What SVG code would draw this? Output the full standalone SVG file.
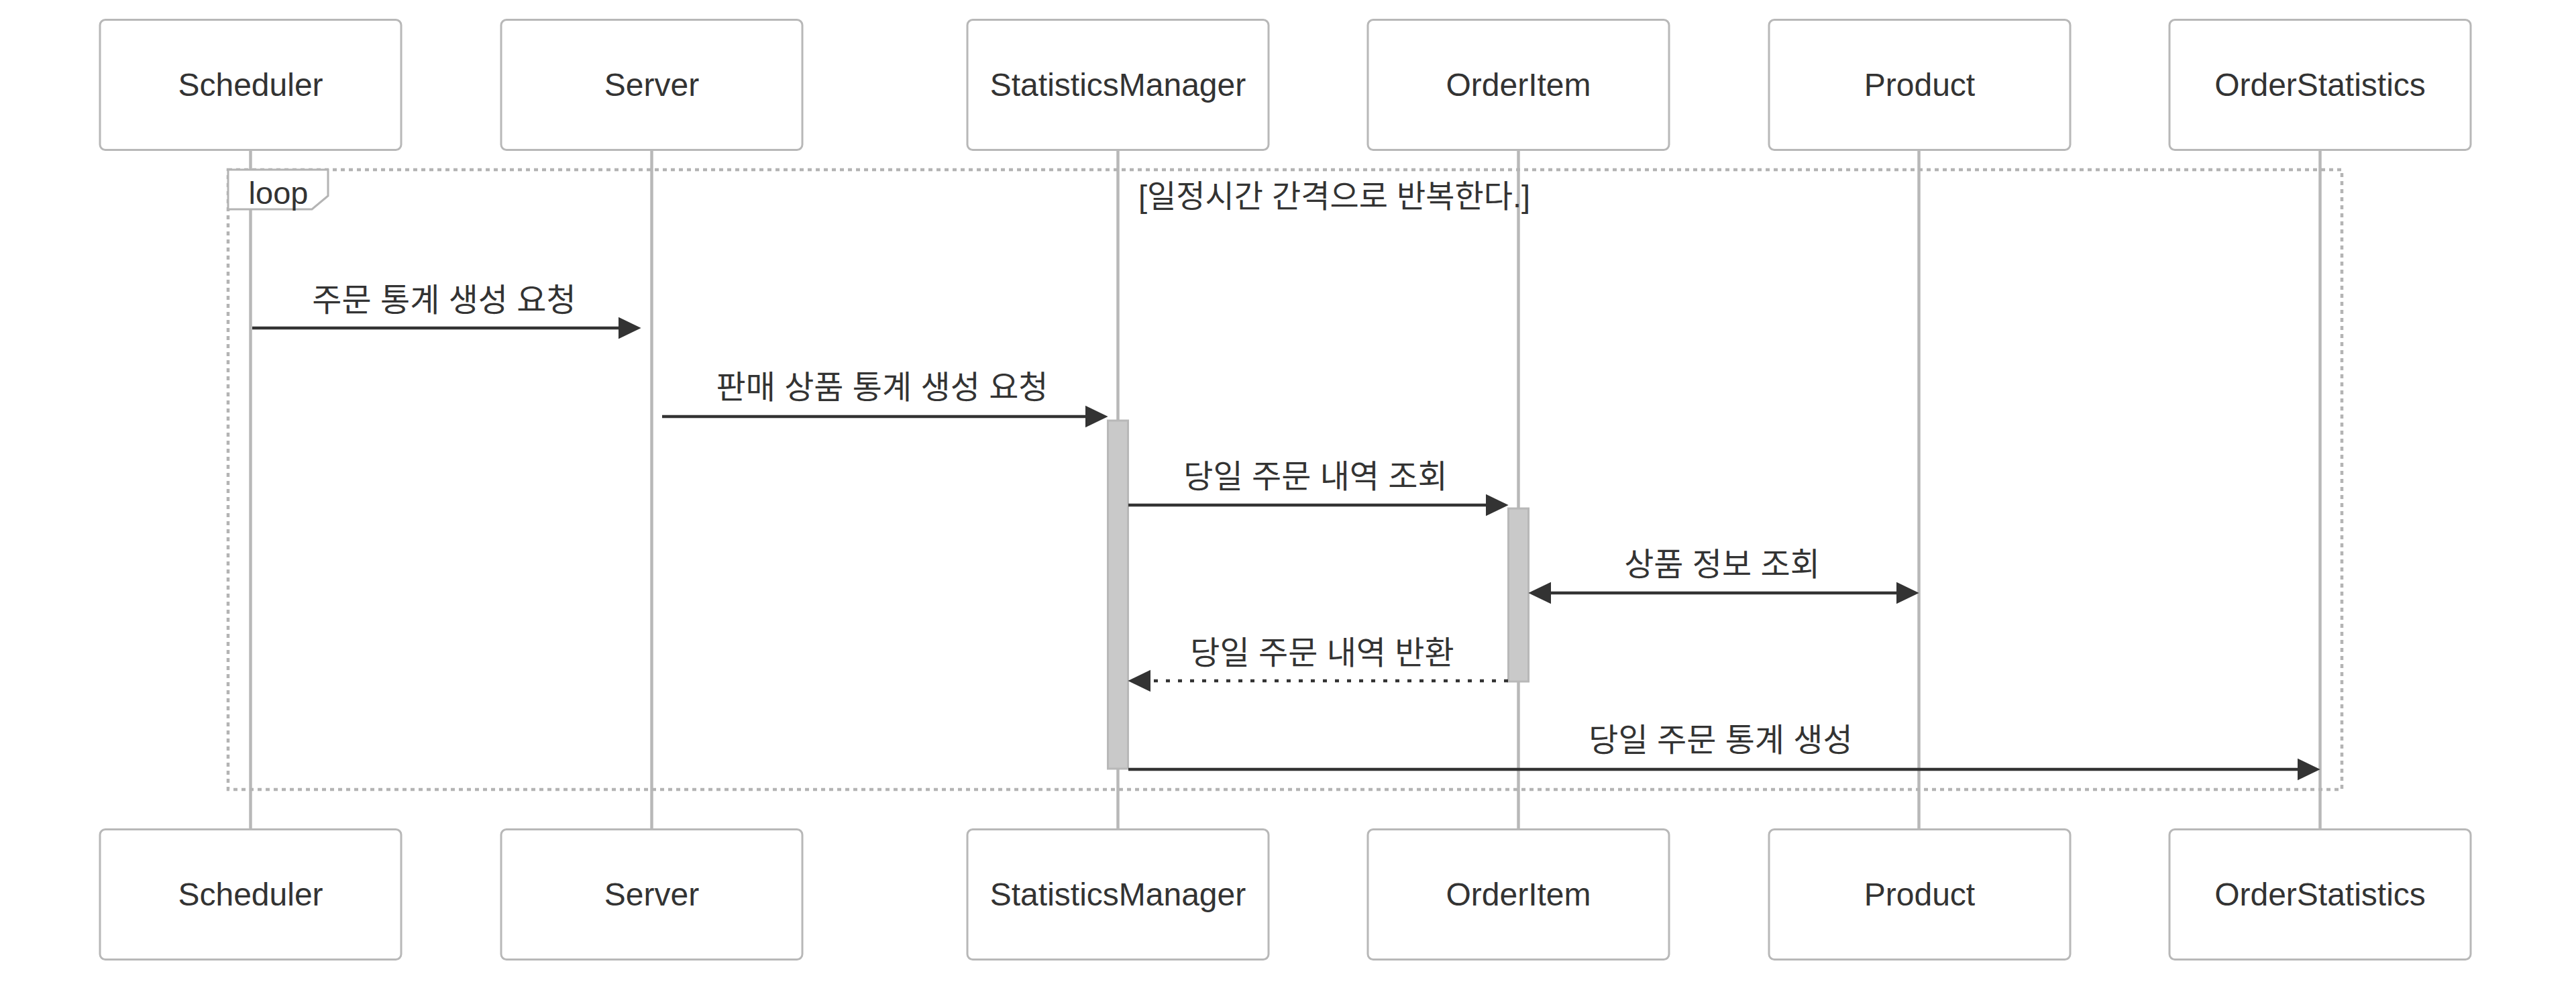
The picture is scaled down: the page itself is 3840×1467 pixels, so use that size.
<svg xmlns="http://www.w3.org/2000/svg" width="3840" height="1467" viewBox="0 0 3840 1467">
<style>
  .actor { fill: #ffffff; stroke: #b8b8b8; stroke-width: 3; }
  .actor-text { font-family: "Liberation Sans", Arial, sans-serif; font-size: 48px; fill: #333333; text-anchor: middle; dominant-baseline: central; }
  .lifeline { stroke: #b8b8b8; stroke-width: 4.5; }
  .activation { fill: #c9c9c9; stroke: #b8b8b8; stroke-width: 3; }
  .msg { stroke: #333333; stroke-width: 4.5; fill: none; }
  .dotted { stroke-dasharray: 6 12; }
  .msg-text { font-family: "Liberation Sans", "Noto Sans CJK KR", sans-serif; font-size: 48px; fill: #333333; text-anchor: middle; }
  .loop-line { fill: none; stroke: #b4b4b4; stroke-width: 4.5; stroke-dasharray: 6 6; }
  .loop-label { fill: #ffffff; stroke: #b4b4b4; stroke-width: 3; }
  .loop-text { font-family: "Liberation Sans", "Noto Sans CJK KR", sans-serif; font-size: 47px; fill: #333333; text-anchor: middle; }
</style>
<defs>
  <marker id="arrow" markerUnits="userSpaceOnUse" markerWidth="34" markerHeight="34" viewBox="0 0 32 31" refX="22" refY="15.5" orient="auto-start-reverse">
    <path d="M0,0 L32,15.5 L0,31 z" fill="#333333"/>
  </marker>
</defs>
<rect width="3840" height="1467" fill="#ffffff"/>

<g id="lifelines">
  <line class="lifeline" x1="373.5" y1="224" x2="373.5" y2="1236"/>
  <line class="lifeline" x1="971.5" y1="224" x2="971.5" y2="1236"/>
  <line class="lifeline" x1="1666.5" y1="224" x2="1666.5" y2="1236"/>
  <line class="lifeline" x1="2263.5" y1="224" x2="2263.5" y2="1236"/>
  <line class="lifeline" x1="2860.5" y1="224" x2="2860.5" y2="1236"/>
  <line class="lifeline" x1="3458.5" y1="224" x2="3458.5" y2="1236"/>
</g>

<g id="actor-Scheduler">
  <rect class="actor" x="149" y="29.5" width="449" height="194" rx="8"/>
  <text class="actor-text" x="373.5" y="126.5">Scheduler</text>
  <rect class="actor" x="149" y="1236.5" width="449" height="194" rx="8"/>
  <text class="actor-text" x="373.5" y="1333.5">Scheduler</text>
</g>
<g id="actor-Server">
  <rect class="actor" x="747" y="29.5" width="449" height="194" rx="8"/>
  <text class="actor-text" x="971.5" y="126.5">Server</text>
  <rect class="actor" x="747" y="1236.5" width="449" height="194" rx="8"/>
  <text class="actor-text" x="971.5" y="1333.5">Server</text>
</g>
<g id="actor-StatisticsManager">
  <rect class="actor" x="1442" y="29.5" width="449" height="194" rx="8"/>
  <text class="actor-text" x="1666.5" y="126.5">StatisticsManager</text>
  <rect class="actor" x="1442" y="1236.5" width="449" height="194" rx="8"/>
  <text class="actor-text" x="1666.5" y="1333.5">StatisticsManager</text>
</g>
<g id="actor-OrderItem">
  <rect class="actor" x="2039" y="29.5" width="449" height="194" rx="8"/>
  <text class="actor-text" x="2263.5" y="126.5">OrderItem</text>
  <rect class="actor" x="2039" y="1236.5" width="449" height="194" rx="8"/>
  <text class="actor-text" x="2263.5" y="1333.5">OrderItem</text>
</g>
<g id="actor-Product">
  <rect class="actor" x="2637" y="29.5" width="449" height="194" rx="8"/>
  <text class="actor-text" x="2861.5" y="126.5">Product</text>
  <rect class="actor" x="2637" y="1236.5" width="449" height="194" rx="8"/>
  <text class="actor-text" x="2861.5" y="1333.5">Product</text>
</g>
<g id="actor-OrderStatistics">
  <rect class="actor" x="3234" y="29.5" width="449" height="194" rx="8"/>
  <text class="actor-text" x="3458.5" y="126.5">OrderStatistics</text>
  <rect class="actor" x="3234" y="1236.5" width="449" height="194" rx="8"/>
  <text class="actor-text" x="3458.5" y="1333.5">OrderStatistics</text>
</g>

<g id="loop">
  <rect class="loop-line" x="340" y="253" width="3151" height="924"/>
  <polygon class="loop-label" points="340,253 489,253 489,292 465,312 340,312"/>
  <text class="loop-text" x="415" y="304">loop</text>
  <text class="loop-text" x="1989" y="309">[일정시간 간격으로 반복한다.]</text>
</g>

<g id="activations">
  <rect class="activation" x="1651.5" y="627" width="30" height="519"/>
  <rect class="activation" x="2248.5" y="758" width="30" height="258"/>
</g>

<g id="connectors">
  <line class="msg" x1="376" y1="489" x2="945" y2="489" marker-end="url(#arrow)"/>
  <text class="msg-text" x="662" y="464">주문 통계 생성 요청</text>

  <line class="msg" x1="987" y1="621" x2="1641" y2="621" marker-end="url(#arrow)"/>
  <text class="msg-text" x="1315" y="594">판매 상품 통계 생성 요청</text>

  <line class="msg" x1="1682" y1="753" x2="2238" y2="753" marker-end="url(#arrow)"/>
  <text class="msg-text" x="1961" y="727">당일 주문 내역 조회</text>

  <line class="msg" x1="2289" y1="884" x2="2850" y2="884" marker-start="url(#arrow)" marker-end="url(#arrow)"/>
  <text class="msg-text" x="2567" y="858">상품 정보 조회</text>

  <line class="msg dotted" x1="2248" y1="1015" x2="1692" y2="1015" marker-end="url(#arrow)"/>
  <text class="msg-text" x="1971" y="990">당일 주문 내역 반환</text>

  <line class="msg" x1="1682" y1="1147" x2="3448" y2="1147" marker-end="url(#arrow)"/>
  <text class="msg-text" x="2565" y="1120">당일 주문 통계 생성</text>
</g>
</svg>
